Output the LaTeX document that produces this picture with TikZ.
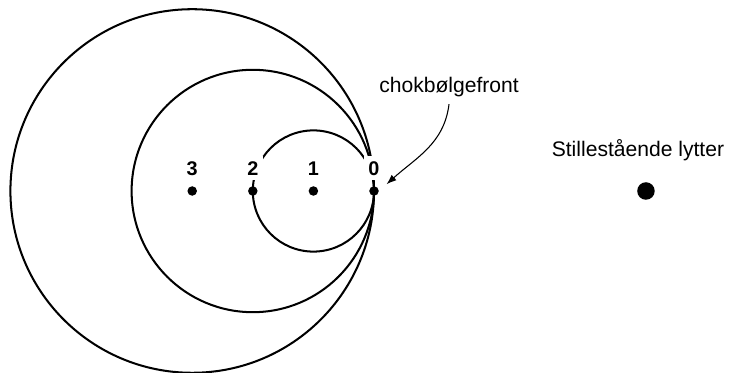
\documentclass[tikz,border=0pt]{standalone}
\usepackage{fontspec}
\setmainfont{Liberation Sans}
\usetikzlibrary{arrows.meta}

\begin{document}
\begin{tikzpicture}[
    wave/.style={line width=0.95pt},
    src/.style={circle, fill=black, inner sep=0pt, minimum size=0.157cm},
    num/.style={fill=white, inner sep=2.3pt, font=\fontsize{9.3}{11}\selectfont\bfseries},
    txt/.style={font=\fontsize{9.9}{12}\selectfont}
]
    \useasboundingbox (-6.172,-3.003) rectangle (5.941,3.152);

    % Wave fronts sent out at 1, 2 and 3
    \draw[wave] (-1,0) circle (1);
    \draw[wave] (-2,0) circle (2);
    \draw[wave] (-3,0) circle (3);

    % Positions of the source
    \node[src] (p0) at (0,0) {};
    \node[src] (p1) at (-1,0) {};
    \node[src] (p2) at (-2,0) {};
    \node[src] (p3) at (-3,0) {};

    \node[num] (n0) at (0,0.375) {0};
    \node[num] (n1) at (-1,0.375) {1};
    \node[num] (n2) at (-2,0.375) {2};
    \node[num] (n3) at (-3,0.375) {3};

    % Shock front
    \node[txt, anchor=base] (shock) at (1.238,1.629) {chokbølgefront};
    \coordinate (tip) at (0.207,0.111);
    \draw[-{Latex[length=4.7pt,width=3.4pt]}, line width=0.5pt] (shock.south) to[out=-97,in=42] (tip);

    % Listener
    \node[txt, anchor=base] (lytter) at (4.356,0.566) {Stillestående lytter};
    \node[src, minimum size=0.289cm] (ear) at (4.488,0) {};
\end{tikzpicture}
\end{document}
